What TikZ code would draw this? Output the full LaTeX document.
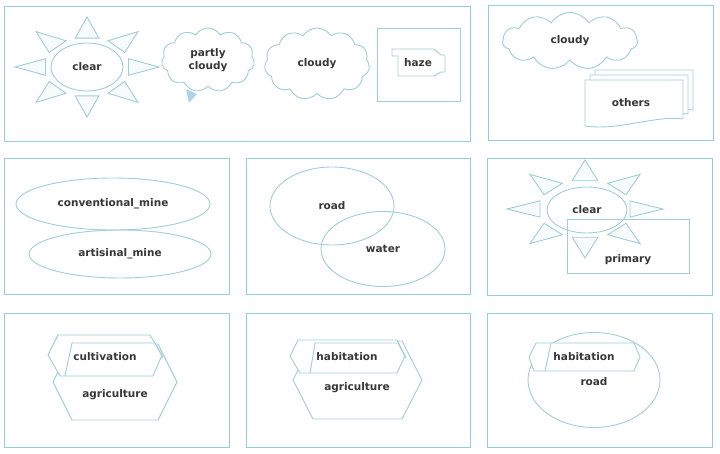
\documentclass[tikz,border=0pt]{standalone}
\usepackage{fontspec}
\setmainfont{DejaVu Sans}
\usetikzlibrary{shapes.geometric,shapes.symbols}
\definecolor{pnl}{RGB}{150,206,216}
\definecolor{edgec}{RGB}{160,205,215}
\definecolor{txt}{RGB}{55,55,55}
\definecolor{sunfill}{RGB}{247,251,252}
\definecolor{tailblue}{RGB}{170,212,232}
\tikzset{
  panel/.style={draw=pnl, line width=1pt},
  shp/.style={draw=edgec, line width=0.9pt, fill=white},
  lbl/.style={text=txt, font=\bfseries\fontsize{10.5}{13}\selectfont, align=center},
  cloudshape/.style={cloud, cloud puffs=11, cloud puff arc=115, cloud ignores aspect, shp, lbl, inner sep=0pt},
  ell/.style={ellipse, draw=edgec, line width=0.9pt, lbl, inner sep=0pt},
}
\newcommand\sunrays[4]{%
  \begin{scope}[shift={(#1,#2)}, xscale=#3, yscale=#4]
    \foreach \a in {0,45,...,315}{
      \draw[draw=edgec, line width=0.9pt, fill=sunfill] (\a:1) -- (\a+16:0.6) -- (\a-16:0.6) -- cycle;
    }
  \end{scope}}
\begin{document}
\begin{tikzpicture}[x=1pt,y=-1pt]
\useasboundingbox (0,0) rectangle (720,454);
\fill[white] (0,0) rectangle (720,454);

% panels
\draw[panel] (4,7) rectangle (470,142);
\draw[panel] (488,6) rectangle (713,141);
\draw[panel] (4,159) rectangle (229,295);
\draw[panel] (246,159) rectangle (470,295);
\draw[panel] (487,159) rectangle (712,296);
\draw[panel] (4,313) rectangle (229,447);
\draw[panel] (246,313) rectangle (470,447);
\draw[panel] (487,313) rectangle (712,447);

% ---- Panel A
\sunrays{87}{67}{72}{50}
\node[ell, fill=white, minimum width=72, minimum height=48] (clearA) at (87,67) {clear};
\fill[tailblue, rounded corners=1pt] (186,89) -- (197,94) -- (189,103) -- cycle;
\node[cloudshape, minimum width=93, minimum height=64] (pcloud) at (208,60) {partly\\cloudy};
\node[cloudshape, minimum width=105, minimum height=72] (cloudA) at (317,64) {cloudy};
\node[draw=edgec, line width=0.9pt, minimum width=83, minimum height=73, inner sep=0pt] (hazebox) at (418.5,64.5) {};
\draw[shp] (392,49)--(434,49)--(441,55)--(445,55)--(445,72)--(441,72)--(434,76)--(398,76)--(398,56)--(392,56)--cycle;
\node[lbl] (haze) at (418,63) {haze};

% ---- Panel B
\node[cloudshape, minimum width=135, minimum height=57] (cloudB) at (570,41) {cloudy};
\draw[shp] (595,70)--(693,70)--(693,110) .. controls (668,106) and (635,121) .. (595,116)--cycle;
\draw[shp] (590,75)--(688,75)--(688,114) .. controls (662,110) and (628,126) .. (590,121)--cycle;
\draw[shp] (585,80)--(683,80)--(683,119) .. controls (655,115) and (620,131) .. (585,126)--cycle;
\node[lbl] (others) at (631,103) {others};

% ---- Panel C
\node[ell, minimum width=194, minimum height=52] (conv) at (113,204) {conventional\_mine};
\node[ell, minimum width=182, minimum height=48] (arti) at (120,254) {artisinal\_mine};

% ---- Panel D
\node[ell, minimum width=124, minimum height=78] (roadD) at (332,206) {road};
\node[ell, minimum width=124, minimum height=75] (water) at (383,249) {water};

% ---- Panel E
\sunrays{585}{209}{78}{49}
\node[ell, fill=white, minimum width=80, minimum height=46] (clearE) at (587,210) {clear};
\node[draw=edgec, line width=0.9pt, minimum width=122, minimum height=54, inner sep=0pt] (primbox) at (628,246) {};
\node[lbl] (primary) at (628,260) {primary};

% ---- Panel F
\draw[shp] (72,344)--(158,344)--(177,382)--(158,420)--(72,420)--(53,382)--cycle;
\draw[shp] (58,335)--(150,335)--(162,355)--(153,376)--(60,376)--(48,355)--cycle;
\draw[draw=edgec, line width=0.9pt] (65,376)--(72,343)--(155,343)--(163,358);
\node[lbl] (cultivation) at (105,357) {cultivation};
\node[lbl] (agriF) at (115,395) {agriculture};

% ---- Panel G
\draw[shp] (313,341)--(402,341)--(422,380)--(402,419)--(313,419)--(293,380)--cycle;
\draw[shp] (298,340)--(397,340)--(405,356)--(397,373)--(300,373)--(290,356)--cycle;
\draw[draw=edgec, line width=0.9pt] (310,373)--(315,343)--(398,343)--(406,358);
\node[lbl] (habG) at (347,357) {habitation};
\node[lbl] (agriG) at (357,388) {agriculture};

% ---- Panel H
\node[ell, minimum width=132, minimum height=95] (roadH) at (594,380) {};
\draw[shp] (536,343)--(634,343)--(640,357)--(634,371)--(534,371)--(529,357)--cycle;
\draw[draw=edgec, line width=0.9pt] (545,371)--(551,343);
\node[lbl] (habH) at (584,357) {habitation};
\node[lbl] (roadHt) at (594,382) {road};
\end{tikzpicture}
\end{document}
